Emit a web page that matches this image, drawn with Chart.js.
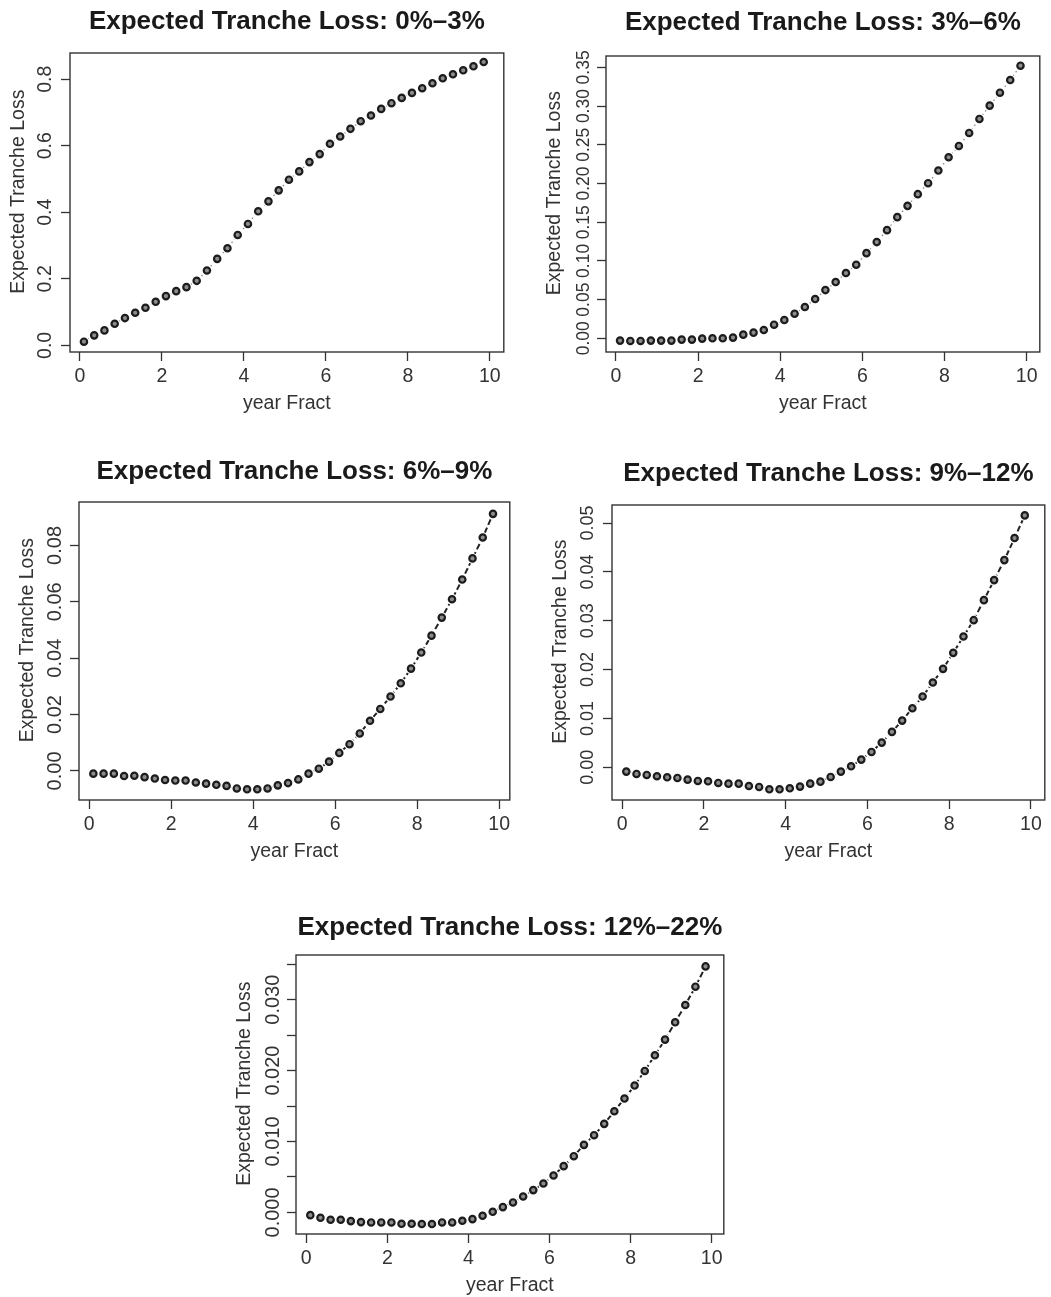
<!DOCTYPE html>
<html>
<head>
<meta charset="utf-8">
<script src="https://cdn.jsdelivr.net/npm/chart.js@4.4.1/dist/chart.umd.min.js"></script>
<style>
html, body { margin: 0; padding: 0; background: #ffffff; overflow: hidden; width: 1051px; height: 1297px; }
.panel { position: absolute; }
.panel canvas { display: block; }
</style>
</head>
<body>
<div class="panel" id="p1"><canvas id="c1"></canvas></div>
<div class="panel" id="p2"><canvas id="c2"></canvas></div>
<div class="panel" id="p3"><canvas id="c3"></canvas></div>
<div class="panel" id="p4"><canvas id="c4"></canvas></div>
<div class="panel" id="p5"><canvas id="c5"></canvas></div>
<script>
// ---------------- DATA ----------------
const yearFract = [0.10, 0.35, 0.60, 0.85, 1.10, 1.35, 1.60, 1.85, 2.10, 2.35,
                   2.60, 2.85, 3.10, 3.35, 3.60, 3.85, 4.10, 4.35, 4.60, 4.85,
                   5.10, 5.35, 5.60, 5.85, 6.10, 6.35, 6.60, 6.85, 7.10, 7.35,
                   7.60, 7.85, 8.10, 8.35, 8.60, 8.85, 9.10, 9.35, 9.60, 9.85];

const loss0to3 = [0.011, 0.030, 0.045, 0.065, 0.082, 0.098, 0.113, 0.131, 0.148, 0.163,
                  0.175, 0.194, 0.225, 0.260, 0.292, 0.332, 0.365, 0.403, 0.433, 0.466,
                  0.498, 0.523, 0.551, 0.575, 0.606, 0.628, 0.651, 0.674, 0.691, 0.711,
                  0.728, 0.744, 0.759, 0.773, 0.788, 0.803, 0.815, 0.827, 0.839, 0.852];

const loss3to6 = [-0.0030, -0.0034, -0.0034, -0.0030, -0.0030, -0.0030, -0.0017, -0.0017, -0.0004, 0.0000,
                  0.0000, 0.0009, 0.0047, 0.0073, 0.0107, 0.0176, 0.0236, 0.0318, 0.0404, 0.0507,
                  0.0623, 0.0727, 0.0843, 0.0950, 0.1100, 0.1243, 0.1397, 0.1565, 0.1711, 0.1862,
                  0.2004, 0.2167, 0.2339, 0.2485, 0.2653, 0.2834, 0.3006, 0.3173, 0.3336, 0.3522];

const loss6to9 = [-0.00095, -0.00095, -0.00095, -0.0018, -0.0017, -0.0022, -0.0027, -0.0032, -0.0034, -0.0034,
                  -0.0041, -0.0045, -0.0049, -0.0053, -0.0062, -0.0065, -0.0065, -0.0062, -0.0051, -0.0043,
                  -0.0030, -0.00095, 0.0008, 0.0033, 0.0064, 0.0095, 0.0133, 0.0178, 0.0220, 0.0264,
                  0.0311, 0.0363, 0.0420, 0.0480, 0.0544, 0.0609, 0.0679, 0.0754, 0.0828, 0.0912];

const loss9to12 = [-0.00089, -0.00137, -0.00157, -0.00184, -0.00205, -0.00219, -0.00253, -0.00280, -0.00287, -0.00321,
                   -0.00335, -0.00335, -0.00383, -0.00403, -0.00451, -0.00451, -0.00430, -0.00396, -0.00335, -0.00294,
                   -0.00198, -0.00089, 0.00020, 0.00157, 0.00314, 0.00505, 0.00724, 0.00956, 0.01209, 0.01448,
                   0.01735, 0.02015, 0.02343, 0.02678, 0.03012, 0.03422, 0.03832, 0.04242, 0.04693, 0.05157];

const loss12to22 = [-0.00038, -0.00075, -0.00103, -0.00103, -0.00122, -0.00136, -0.00141, -0.00141, -0.00141, -0.00160,
                    -0.00160, -0.00164, -0.00164, -0.00141, -0.00141, -0.00117, -0.00094, -0.00047, 0.00009, 0.00075,
                    0.00141, 0.00225, 0.00315, 0.00408, 0.00521, 0.00653, 0.00793, 0.00953, 0.01089, 0.01249,
                    0.01427, 0.01606, 0.01789, 0.01995, 0.02216, 0.02437, 0.02681, 0.02925, 0.03183, 0.03469];

const panelTitles = ['Expected Tranche Loss: 0%\u20133%', 'Expected Tranche Loss: 3%\u20136%',
                     'Expected Tranche Loss: 6%\u20139%', 'Expected Tranche Loss: 9%\u201312%',
                     'Expected Tranche Loss: 12%\u201322%'];
const xAxisTitle = 'year Fract';
const yAxisTitle = 'Expected Tranche Loss';

const xTicks = [0, 2, 4, 6, 8, 10];
const xTickLabels = ['0', '2', '4', '6', '8', '10'];

const yTicks1 = [0, 0.2, 0.4, 0.6, 0.8];
const yTickLabels1 = ['0.0', '0.2', '0.4', '0.6', '0.8'];
const yTicks2 = [0, 0.05, 0.10, 0.15, 0.20, 0.25, 0.30, 0.35];
const yTickLabels2 = ['0.00', '0.05', '0.10', '0.15', '0.20', '0.25', '0.30', '0.35'];
const yTicks3 = [0, 0.02, 0.04, 0.06, 0.08];
const yTickLabels3 = ['0.00', '0.02', '0.04', '0.06', '0.08'];
const yTicks4 = [0, 0.01, 0.02, 0.03, 0.04, 0.05];
const yTickLabels4 = ['0.00', '0.01', '0.02', '0.03', '0.04', '0.05'];
const yTicks5 = [0, 0.005, 0.010, 0.015, 0.020, 0.025, 0.030, 0.035];
const yTickLabels5 = ['0.000', '', '0.010', '', '0.020', '', '0.030', ''];

// ---------------- LAYOUT / STYLE ----------------
const FONT = '"Liberation Sans", Arial, Helvetica, sans-serif';
const TICK_FONT_SIZE = 19.5;
const TITLE_SIZE = 26;
const TICK_LEN = 9;
const Y_AXIS_W = 70, X_AXIS_H = 70, TITLE_H = 52, RIGHT_PAD = 4;

const panels = [
  { id: 1, box: [70, 53, 506, 352],    xr: [-0.24, 10.34],  yr: [-0.0200, 0.8790],  vals: loss0to3,   yt: yTicks1, yl: yTickLabels1, yFont: 19.5, labOff: 24,   titleGap: 31, dash: [1.5, 3], lineColor: '#8a8a8a', lineW: 1.3 },
  { id: 2, box: [606, 56, 1042, 352],  xr: [-0.242, 10.32], yr: [-0.0177, 0.3647],  vals: loss3to6,   yt: yTicks2, yl: yTickLabels2, yFont: 17.5, labOff: 21.5, titleGap: 33, dash: [1.5, 3], lineColor: '#8a8a8a', lineW: 1.3 },
  { id: 3, box: [79, 502, 512, 800],   xr: [-0.25, 10.26],  yr: [-0.0103, 0.0954],  vals: loss6to9,   yt: yTicks3, yl: yTickLabels3, yFont: 20,   labOff: 23.7, titleGap: 30, dash: [6, 3], lineColor: '#222222', lineW: 2 },
  { id: 4, box: [612, 505, 1047, 800], xr: [-0.25, 10.34],  yr: [-0.0067, 0.0537],  vals: loss9to12,  yt: yTicks4, yl: yTickLabels4, yFont: 18,   labOff: 23.7, titleGap: 31, dash: [6, 3], lineColor: '#222222', lineW: 2 },
  { id: 5, box: [296, 955, 726, 1234], xr: [-0.253, 10.30], yr: [-0.00304, 0.0363], vals: loss12to22, yt: yTicks5, yl: yTickLabels5, yFont: 20,   labOff: 22.7, titleGap: 27.5, dash: [6, 3], lineColor: '#222222', lineW: 2 }
];

const framePlugin = {
  id: 'frame',
  afterDatasetsDraw(chart) {
    const a = chart.chartArea, ctx = chart.ctx;
    ctx.save();
    ctx.strokeStyle = '#333333';
    ctx.lineWidth = 1.4;
    ctx.strokeRect(a.left, a.top, a.right - a.left, a.bottom - a.top);
    ctx.restore();
  }
};

const measureCtx = document.createElement('canvas').getContext('2d');

panels.forEach((p, idx) => {
  const [bl, bt, br, bb] = p.box;
  const left = bl - Y_AXIS_W, top = bt - TITLE_H;
  const w = (br - bl) + Y_AXIS_W + RIGHT_PAD, h = (bb - bt) + TITLE_H + X_AXIS_H;
  const div = document.getElementById('p' + p.id);
  div.style.left = left + 'px'; div.style.top = top + 'px';
  div.style.width = w + 'px'; div.style.height = h + 'px';
  const canvas = document.getElementById('c' + p.id);
  canvas.width = w; canvas.height = h;
  canvas.style.width = w + 'px'; canvas.style.height = h + 'px';

  measureCtx.font = p.yFont + 'px ' + FONT;
  const widest = Math.max(...p.yl.map(s => measureCtx.measureText(s).width));
  const yPad = p.labOff - TICK_LEN - widest / 2;

  // title: centre of text sits titleGap px above the plot box
  const tLine = TITLE_SIZE * 1.2;
  const tPadBottom = p.titleGap - tLine / 2;
  const tPadTop = TITLE_H - tLine - tPadBottom;

  const pts = yearFract.map((x, i) => ({ x: x, y: p.vals[i] }));

  new Chart(canvas, {
    type: 'scatter',
    data: {
      datasets: [
        { data: pts, showLine: true, borderColor: p.lineColor, borderWidth: p.lineW, borderDash: p.dash,
          pointRadius: 0, fill: false, order: 3 },
        { data: pts, showLine: false, pointRadius: 5.5, pointBackgroundColor: '#ffffff',
          pointBorderWidth: 0, pointBorderColor: '#ffffff', order: 2 },
        { data: pts, showLine: false, pointRadius: 3.2, pointBorderWidth: 2.2,
          pointBorderColor: '#1c1c1c', pointBackgroundColor: '#8c8c8c', order: 1 }
      ]
    },
    options: {
      responsive: false,
      animation: false,
      events: [],
      devicePixelRatio: 1,
      layout: { padding: { left: 0, top: 0, right: RIGHT_PAD, bottom: 0 } },
      plugins: {
        legend: { display: false },
        tooltip: { enabled: false },
        title: {
          display: true, text: panelTitles[idx], fullSize: false, color: '#1a1a1a',
          font: { family: FONT, size: TITLE_SIZE, weight: 'bold' },
          padding: { top: tPadTop, bottom: tPadBottom }
        }
      },
      scales: {
        x: {
          type: 'linear', position: 'bottom', min: p.xr[0], max: p.xr[1],
          afterBuildTicks: s => { s.ticks = xTicks.map(v => ({ value: v })); },
          afterFit: s => { s.height = X_AXIS_H; s.paddingLeft = 0; s.paddingRight = 0; },
          grid: { display: true, drawOnChartArea: false, drawTicks: true, tickLength: TICK_LEN,
                  tickColor: '#333333', tickWidth: 1.3 },
          border: { display: false },
          ticks: { autoSkip: false, maxRotation: 0, minRotation: 0, padding: 4, color: '#333333',
                   font: { family: FONT, size: TICK_FONT_SIZE },
                   callback: (v, i) => xTickLabels[i] },
          title: { display: true, text: xAxisTitle, color: '#333333',
                   font: { family: FONT, size: TICK_FONT_SIZE }, padding: { top: 0, bottom: 7 } }
        },
        y: {
          type: 'linear', position: 'left', min: p.yr[0], max: p.yr[1],
          afterBuildTicks: s => { s.ticks = p.yt.map(v => ({ value: v })); },
          afterFit: s => { s.width = Y_AXIS_W; s.paddingTop = 0; s.paddingBottom = 0; },
          grid: { display: true, drawOnChartArea: false, drawTicks: true, tickLength: TICK_LEN,
                  tickColor: '#333333', tickWidth: 1.3 },
          border: { display: false },
          ticks: { autoSkip: false, minRotation: 90, maxRotation: 90, crossAlign: 'center',
                   padding: yPad, color: '#333333',
                   font: { family: FONT, size: p.yFont },
                   callback: (v, i) => p.yl[i] },
          title: { display: true, text: '    ' + yAxisTitle, color: '#333333',
                   font: { family: FONT, size: TICK_FONT_SIZE }, padding: { top: 6.7, bottom: 0 } }
        }
      }
    },
    plugins: [framePlugin]
  });
});
</script>
</body>
</html>
